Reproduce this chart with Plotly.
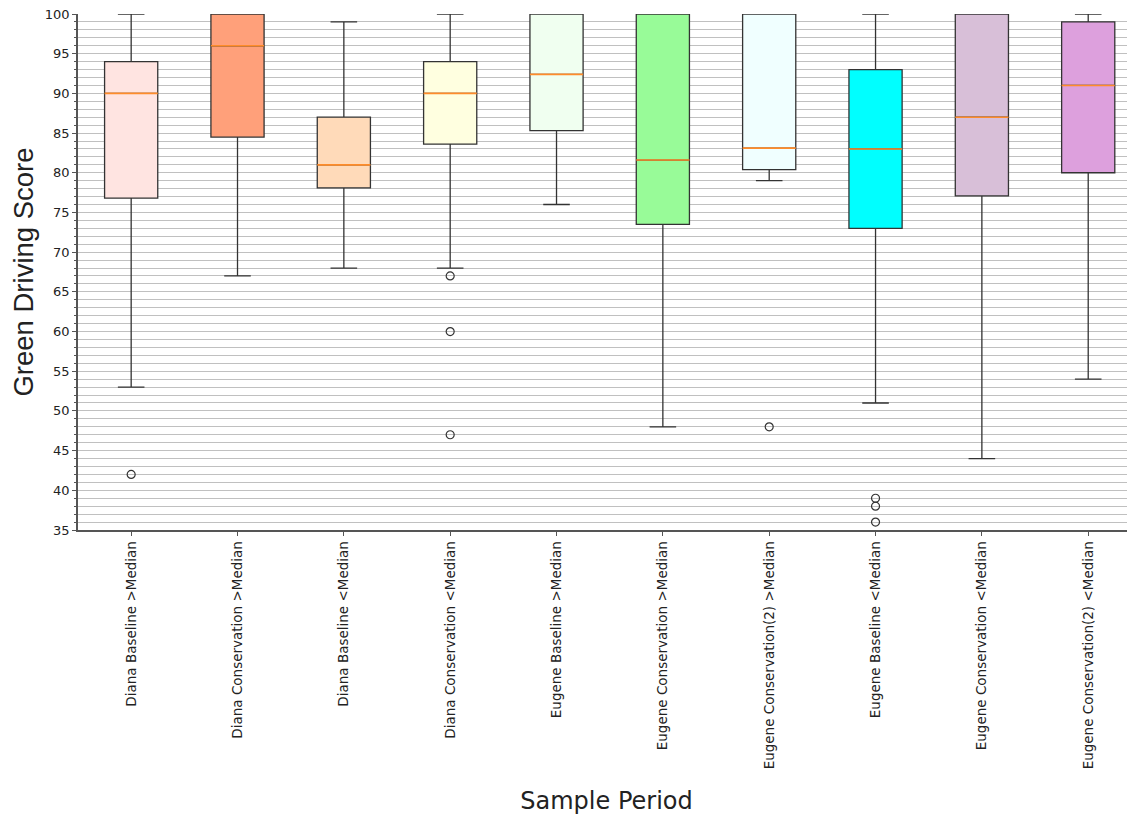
import plotly.graph_objects as go

categories = ["Diana Baseline >Median", "Diana Conservation >Median", "Diana Baseline <Median",
              "Diana Conservation <Median", "Eugene Baseline >Median", "Eugene Conservation >Median",
              "Eugene Conservation(2) >Median", "Eugene Baseline <Median", "Eugene Conservation <Median",
              "Eugene Conservation(2) <Median"]
lower_whisker = [53, 67, 68, 68, 76, 48, 79, 51, 44, 54]
q1_values = [76.8, 84.5, 78.1, 83.6, 85.3, 73.5, 80.4, 73, 77.1, 80]
medians = [90, 96, 81, 90, 92.4, 81.6, 83.1, 83, 87, 91]
q3_values = [94, 100, 87, 94, 100, 100, 100, 93, 100, 99]
upper_whisker = [100, 100, 99, 100, 100, 100, 100, 100, 100, 100]
outlier_groups = [[42], [], [], [67, 60, 47], [], [], [48], [39, 38, 36], [], []]
box_colors = ["#FFE4E1", "#FFA07A", "#FFDAB9", "#FFFFE0", "#F0FFF0",
              "#98FB98", "#F0FFFF", "#00FFFF", "#D8BFD8", "#DDA0DD"]

positions = list(range(1, len(categories) + 1))
box_width = 0.5

fig = go.Figure()
for i, pos in enumerate(positions):
    fig.add_trace(go.Box(
        x=[pos], q1=[q1_values[i]], median=[medians[i]], q3=[q3_values[i]],
        lowerfence=[lower_whisker[i]], upperfence=[upper_whisker[i]],
        width=box_width, whiskerwidth=0.5, fillcolor=box_colors[i],
        line=dict(color="#333333", width=1.3), boxpoints=False, showlegend=False,
        hoverinfo="skip",
    ))

mx, my = [], []
for i, pos in enumerate(positions):
    mx += [pos - box_width / 2, pos + box_width / 2, None]
    my += [medians[i], medians[i], None]
fig.add_trace(go.Scatter(x=mx, y=my, mode="lines", line=dict(color="#ff8c2a", width=1.6),
                         showlegend=False, hoverinfo="skip"))

ox, oy = [], []
for i, pos in enumerate(positions):
    for v in outlier_groups[i]:
        ox.append(pos)
        oy.append(v)
fig.add_trace(go.Scatter(x=ox, y=oy, mode="markers",
                         marker=dict(symbol="circle-open", size=8, color="#333333", line=dict(width=1.2)),
                         showlegend=False, hoverinfo="skip"))

fig.update_layout(
    width=1127, height=807,
    margin=dict(l=70, r=0, t=6, b=285),
    paper_bgcolor="white", plot_bgcolor="white",
    font=dict(family="DejaVu Sans", color="#222222"),
)
fig.update_xaxes(
    range=[0.5, 10.44], tickmode="array", tickvals=positions, ticktext=categories,
    tickangle=-90, tickfont=dict(size=13.5, family="DejaVu Sans"),
    showline=True, linecolor="#555555", linewidth=1.5, mirror=False,
    ticks="outside", ticklen=4, tickcolor="#555555", showgrid=False, zeroline=False,
    title=dict(text="Sample Period", font=dict(size=24, family="DejaVu Sans"), standoff=36),
    automargin=False,
)
fig.update_yaxes(
    range=[35, 100], tickmode="linear", tick0=35, dtick=5,
    tickfont=dict(size=13, family="DejaVu Sans"), ticklabeloverflow="allow",
    showline=True, linecolor="#555555", linewidth=1.5, mirror=True,
    ticks="outside", ticklen=4, tickcolor="#555555",
    showgrid=True, gridcolor="#c0c0c0", gridwidth=1, zeroline=False,
    minor=dict(dtick=1, showgrid=True, gridcolor="#c0c0c0", gridwidth=1,
               ticks="outside", ticklen=2, tickcolor="#555555"),
    title=dict(text="Green Driving Score", font=dict(size=27.5, family="Liberation Sans"), standoff=8),
    automargin=False,
)

fig.write_html("out.html")
